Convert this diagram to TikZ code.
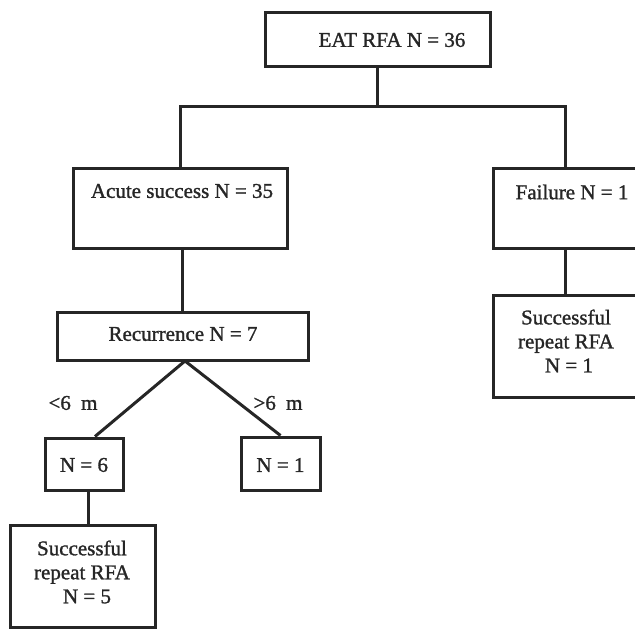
\documentclass[tikz,border=0pt]{standalone}
\usepackage{fontspec}
\setmainfont{Liberation Serif}
\newfontfamily\lblfont{Liberation Serif}[FakeBold=1.3]
\usetikzlibrary{calc}
\begin{document}
\begin{tikzpicture}[x=1pt,y=-1pt,
  box/.style={draw=black!85,line width=3pt,minimum width=#1,inner sep=0pt},
  lbl/.style={inner sep=0pt,font=\lblfont\fontsize{21}{24}\selectfont,text=black!85,align=center},
  conn/.style={draw=black!85,line width=3pt}]
\useasboundingbox (0,0) rectangle (635,629);
\clip (0,0) rectangle (635,629);
% boxes
\node[box=225pt,minimum height=54pt] (top) at (377.5,39) {};
\node[box=214pt,minimum height=80pt] (acute) at (180,208) {};
\node[box=144pt,minimum height=80pt] (fail) at (565,208) {};
\node[box=144pt,minimum height=102pt] (rep1) at (565,346) {};
\node[box=251pt,minimum height=48pt] (rec) at (182.5,336) {};
\node[box=78pt,minimum height=52pt] (n6) at (84,464) {};
\node[box=79pt,minimum height=53pt] (n1) at (280.5,463.5) {};
\node[box=145pt,minimum height=102pt] (rep5) at (82.5,576) {};
% texts
\node[lbl] (ttop) at (392,40) {EAT RFA N = 36};
\node[lbl] (tacute) at (182,191) {Acute success N = 35};
\node[lbl] (tfail) at (572,192) {Failure N = 1};
\node[lbl] (trep1) at (566,341) {Successful\\repeat RFA\\\hspace*{6pt}N = 1};
\node[lbl] (trec) at (183,334) {Recurrence N = 7};
\node[lbl] (tn6) at (84,465) {N = 6};
\node[lbl] (tn1) at (280.5,465) {N = 1};
\node[lbl] (trep5) at (82,572) {Successful\\repeat RFA\\\hspace*{10pt}N = 5};
\node[lbl] (lless) at (73,403) {<6\hspace{5pt} m};
\node[lbl] (lmore) at (278,403) {>6\hspace{5pt} m};
% connectors
\coordinate (split) at (377.5,106);
\draw[conn] (top.south) -- (split);
\draw[conn] (acute.north) |- (split) -| (fail.north);
\draw[conn] (rec.north |- acute.south) -- (rec.north);
\draw[conn] (fail.south) -- (rep1.north);
\coordinate (recs) at (185,361);
\draw[conn] (recs) -- ($(n6.north)+(11,0)$);
\draw[conn] (recs) -- (n1.north);
\coordinate (n6s) at ($(n6.south)+(4,0)$);
\draw[conn] (n6s) -- (n6s |- rep5.north);
\end{tikzpicture}
\end{document}
